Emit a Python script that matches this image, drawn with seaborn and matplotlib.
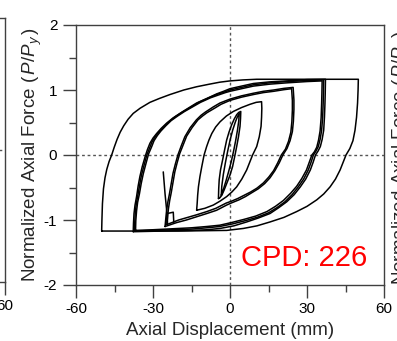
import numpy as np
import pandas as pd
import matplotlib
matplotlib.use("Agg")
import matplotlib.pyplot as plt
import seaborn as sns

sns.set_style("ticks")
plt.rcParams["font.family"] = ["Liberation Sans", "DejaVu Sans"]
plt.rcParams["mathtext.fontset"] = "custom"
plt.rcParams["mathtext.rm"] = "Liberation Sans"
plt.rcParams["mathtext.it"] = "Liberation Sans:italic"
plt.rcParams["axes.unicode_minus"] = False

# Hysteresis cycles: axial displacement (mm) and normalized axial force P/Py
outer_disp = [-50.0, -49.9, -49.7, -49.3, -48.7, -48.0, -47.1, -46.1, -45.1, -44.0, -42.8, -41.4, -39.7,
              -37.7, -35.0, -31.2, -27.5, -23.4, -18.0, -13.0, -8.0, -4.0, 0.0, 5.0, 10.4, 30.0, 50.0,
              49.9, 49.7, 49.3, 48.7, 47.9, 46.7, 45.2, 44.2, 42.9, 41.1, 39.0, 36.5, 33.8, 30.0, 26.0,
              21.0, 15.6, 10.5, 5.2, -1.3, -20.0, -50.0]
outer_force = [-1.17, -1.00, -0.75, -0.52, -0.35, -0.22, -0.10, 0.0, 0.12, 0.24, 0.35, 0.45, 0.55,
               0.64, 0.72, 0.81, 0.87, 0.93, 1.00, 1.05, 1.09, 1.12, 1.14, 1.155, 1.165, 1.165, 1.165,
               1.0, 0.80, 0.58, 0.38, 0.22, 0.10, 0.0, -0.10, -0.23, -0.37, -0.49, -0.60, -0.69, -0.79, -0.87,
               -0.96, -1.03, -1.09, -1.13, -1.16, -1.17, -1.17]

b1_disp = [-37.7, -37.6, -37.4, -37.0, -36.4, -35.8, -35.1, -34.2, -33.1, -32.2, -31.2, -30.0, -28.6,
           -26.8, -24.7, -22.2, -19.5, -16.3, -13.0, -9.0, -5.2, -2.5, 0.0, 4.5, 9.1, 15.5, 22.1, 30.0, 37.2,
           37.1, 37.0, 36.8, 36.5, 35.9, 35.2, 34.3, 33.3, 32.4, 31.3, 29.5, 27.4, 25.0, 22.1, 19.0,
           15.6, 11.0, 6.5, 1.5, -3.9, -9.0, -15.0, -37.7]
b1_force = [-1.18, -1.05, -0.90, -0.77, -0.64, -0.48, -0.33, -0.18, -0.03, 0.08, 0.18, 0.26, 0.33,
            0.41, 0.49, 0.57, 0.64, 0.72, 0.80, 0.87, 0.94, 0.98, 1.02, 1.06, 1.10, 1.125, 1.14, 1.16, 1.165,
            0.95, 0.80, 0.58, 0.38, 0.24, 0.13, 0.06, 0.0, -0.11, -0.23, -0.37, -0.49, -0.61, -0.72, -0.81,
            -0.90, -0.97, -1.03, -1.09, -1.13, -1.15, -1.16, -1.18]

b2_disp = [-37.2, -37.1, -36.9, -36.5, -35.9, -35.2, -34.5, -33.5, -32.4, -31.4, -30.4, -29.2, -27.8,
           -25.9, -23.8, -21.3, -18.6, -15.5, -12.2, -8.3, -4.6, -2.1, 0.0, 4.5, 9.1, 15.5, 22.1, 30.0, 36.5,
           36.4, 36.3, 36.1, 35.7, 35.1, 34.4, 33.5, 32.5, 31.6, 30.5, 28.7, 26.6, 24.2, 21.4, 18.3,
           15.0, 10.5, 6.0, 1.0, -4.0, -9.0, -15.0, -30.0, -37.2]
b2_force = [-1.17, -1.03, -0.88, -0.75, -0.62, -0.46, -0.31, -0.16, 0.0, 0.10, 0.20, 0.28, 0.35,
            0.43, 0.51, 0.59, 0.66, 0.73, 0.81, 0.88, 0.94, 0.97, 1.00, 1.04, 1.08, 1.11, 1.13, 1.145, 1.155,
            0.95, 0.80, 0.58, 0.38, 0.24, 0.13, 0.06, 0.0, -0.11, -0.23, -0.37, -0.49, -0.61, -0.72, -0.81,
            -0.89, -0.96, -1.01, -1.06, -1.10, -1.12, -1.14, -1.16, -1.17]

b3_disp = [-36.8, -36.7, -36.4, -36.0, -35.3, -34.6, -33.8, -32.8, -31.7, -30.6, -29.6, -28.3, -26.9,
           -25.0, -22.9, -20.4, -17.7, -14.6, -11.5, -7.6, -4.0, -1.8, 0.0, 4.5, 9.1, 15.5, 22.1, 30.0, 35.9,
           35.8, 35.7, 35.5, 35.1, 34.5, 33.8, 32.9, 31.9, 30.9, 29.8, 28.0, 26.0, 23.6, 20.8, 17.7,
           14.4, 10.0, 5.5, 0.5, -4.0, -9.0, -15.0, -30.0, -36.8]
b3_force = [-1.16, -1.01, -0.86, -0.73, -0.60, -0.44, -0.29, -0.14, 0.02, 0.12, 0.22, 0.30, 0.37,
            0.45, 0.53, 0.60, 0.67, 0.74, 0.81, 0.88, 0.93, 0.96, 0.98, 1.02, 1.06, 1.09, 1.11, 1.13, 1.14,
            0.94, 0.79, 0.57, 0.37, 0.23, 0.12, 0.05, 0.0, -0.11, -0.23, -0.36, -0.48, -0.59, -0.70, -0.79,
            -0.87, -0.94, -0.99, -1.04, -1.08, -1.10, -1.12, -1.15, -1.16]

c1_disp = [-25.3, -25.0, -24.7, -24.2, -23.6, -22.9, -22.2, -21.3, -20.3, -19.0, -17.6, -15.5, -13.1,
           -11.3, -9.6, -6.5, -3.9, 0.0, 4.5, 9.1, 13.0, 17.0, 21.0, 24.6,
           24.9, 24.9, 24.7, 24.3, 23.4, 22.2, 20.6, 19.2, 17.5, 15.6, 13.5, 11.0, 8.5, 6.0, 3.5, 1.0,
           -1.3, -5.2, -9.0, -13.0, -17.0, -20.8, -25.3]
c1_force = [-1.10, -0.97, -0.85, -0.72, -0.60, -0.44, -0.28, -0.14, 0.0, 0.14, 0.28, 0.42, 0.54,
            0.61, 0.66, 0.74, 0.80, 0.86, 0.91, 0.95, 0.98, 1.00, 1.025, 1.04,
            0.85, 0.70, 0.52, 0.36, 0.22, 0.10, 0.0, -0.12, -0.24, -0.35, -0.44, -0.52, -0.58, -0.64, -0.69, -0.73,
            -0.77, -0.85, -0.90, -0.95, -1.00, -1.04, -1.10]

c2_disp = [-24.6, -24.3, -24.0, -23.5, -22.9, -22.2, -21.5, -20.6, -19.6, -18.3, -16.9, -14.8, -12.5,
           -10.7, -9.0, -6.0, -3.5, 0.0, 4.5, 9.1, 13.0, 17.0, 21.0, 24.0,
           24.3, 24.3, 24.1, 23.7, 22.8, 21.6, 20.0, 18.6, 17.0, 15.1, 13.0, 10.5, 8.0, 5.5, 3.0, 0.6,
           -1.5, -5.5, -9.0, -13.0, -16.5, -20.0, -24.6]
c2_force = [-1.07, -0.95, -0.83, -0.70, -0.58, -0.42, -0.26, -0.12, 0.02, 0.15, 0.29, 0.42, 0.54,
            0.60, 0.65, 0.72, 0.78, 0.84, 0.89, 0.93, 0.96, 0.98, 1.005, 1.02,
            0.84, 0.69, 0.51, 0.35, 0.21, 0.09, 0.0, -0.12, -0.24, -0.34, -0.43, -0.51, -0.57, -0.62, -0.67, -0.71,
            -0.74, -0.82, -0.87, -0.92, -0.96, -1.00, -1.07]

spike_disp = [-26.0, -25.3, -24.6, -24.4, -24.4, -22.1, -21.9]
spike_force = [-0.26, -0.60, -0.88, -1.05, -0.90, -0.88, -1.04]

d_disp = [-13.0, -12.8, -12.6, -12.3, -11.7, -11.0, -10.1, -9.1, -8.2, -7.1, -5.6, -3.9, -1.4, 1.3,
          4.5, 7.8, 10.2, 12.3,
          12.4, 12.3, 12.1, 11.4, 10.4, 8.8, 7.7, 6.5, 4.6, 2.6, 0.7, -1.3, -3.9, -6.5, -9.8, -13.0]
d_force = [-0.85, -0.75, -0.62, -0.49, -0.33, -0.18, 0.0, 0.13, 0.23, 0.33, 0.43, 0.51, 0.60, 0.67,
           0.73, 0.78, 0.81, 0.82,
           0.72, 0.58, 0.44, 0.28, 0.13, 0.0, -0.11, -0.23, -0.37, -0.49, -0.57, -0.64, -0.71, -0.77, -0.82, -0.85]

e1_disp = [-4.5, -4.4, -4.2, -3.7, -2.9, -2.1, -1.3, -0.4, 0.6, 1.6, 2.6, 3.4, 4.2,
           4.1, 3.9, 3.3, 2.6, 1.8, 1.0, -0.1, -1.3, -2.3, -3.2, -4.0, -4.5]
e1_force = [-0.67, -0.52, -0.38, -0.23, -0.08, 0.08, 0.23, 0.35, 0.46, 0.55, 0.62, 0.655, 0.67,
            0.56, 0.44, 0.28, 0.13, -0.03, -0.18, -0.32, -0.44, -0.54, -0.62, -0.66, -0.67]

e2_disp = [-3.4, -3.2, -2.6, -1.8, -0.9, 0.1, 1.1, 2.1, 2.9, 3.6,
           3.4, 2.9, 2.2, 1.4, 0.5, -0.5, -1.5, -2.5, -3.4]
e2_force = [-0.62, -0.48, -0.30, -0.12, 0.06, 0.24, 0.39, 0.51, 0.59, 0.64,
            0.52, 0.38, 0.22, 0.06, -0.10, -0.25, -0.39, -0.52, -0.62]

cycles = {
    "outer": (outer_disp, outer_force),
    "b1": (b1_disp, b1_force),
    "b2": (b2_disp, b2_force),
    "b3": (b3_disp, b3_force),
    "c1": (c1_disp, c1_force),
    "c2": (c2_disp, c2_force),
    "spike": (spike_disp, spike_force),
    "d": (d_disp, d_force),
    "e1": (e1_disp, e1_force),
    "e2": (e2_disp, e2_force),
}
frames = []
for name, (dx, fy) in cycles.items():
    frames.append(pd.DataFrame({"disp": dx, "force": fy, "cycle": name}))
df = pd.concat(frames, ignore_index=True)

x_ticks = [-60, -30, 0, 30, 60]
y_ticks = [-2, -1, 0, 1, 2]
cpd_label = "CPD: 226"
y_label = r"Normalized Axial Force ($\,P/P_y\,$)"
x_label = "Axial Displacement (mm)"

W, H = 397, 341
fig = plt.figure(figsize=(W / 100, H / 100), dpi=100)
fig.patch.set_facecolor("white")

spine_c = "#404040"


def style_axes(a):
    a.set_xlim(-60, 60)
    a.set_ylim(-2, 2)
    a.set_xticks(x_ticks)
    a.set_yticks(y_ticks)
    a.set_xticks([-45, -15, 15, 45], minor=True)
    a.set_yticks([-1.5, -0.5, 0.5, 1.5], minor=True)
    for s in a.spines.values():
        s.set_color(spine_c)
        s.set_linewidth(1.0)
    a.tick_params(which="major", direction="out", length=9.5, width=1.0, color=spine_c,
                  labelsize=11, labelcolor="black")
    a.tick_params(axis="x", which="major", pad=3)
    a.tick_params(axis="y", which="major", pad=4)
    a.tick_params(which="minor", direction="out", length=5, width=1.0, color=spine_c)
    a.axhline(0, color="#555555", lw=1.0, ls=(0, (2, 2)), zorder=1)
    a.axvline(0, color="#555555", lw=1.0, ls=(0, (2, 2)), zorder=1)


# neighbouring panel on the left (only its right edge is in frame)
ax0 = fig.add_axes([(5 - 308) / W, (H - 282) / H, 308 / W, 264 / H])
style_axes(ax0)
ax0.set_xticklabels(["", "", "", "", "60"])
ax0.tick_params(labelleft=False)

# main panel
ax = fig.add_axes([76 / W, (H - 285) / H, 308 / W, 260 / H])
style_axes(ax)

sns.lineplot(data=df, x="disp", y="force", units="cycle", estimator=None, sort=False,
             color="black", linewidth=1.1, ax=ax, legend=False, zorder=3)

ax.set_xlabel(x_label, fontsize=13.5, labelpad=4)
ax.set_ylabel(y_label, fontsize=13.5, labelpad=0)
ax.text(53.5, -1.59, cpd_label, color="red", fontsize=21, ha="right", va="center")

# ylabel of the neighbouring panel on the right
fig.text(391 / W, 1 - 158 / H, y_label, rotation=90, ha="left", va="center", fontsize=13.5)

fig.savefig("out.png", dpi=100, facecolor="white")
